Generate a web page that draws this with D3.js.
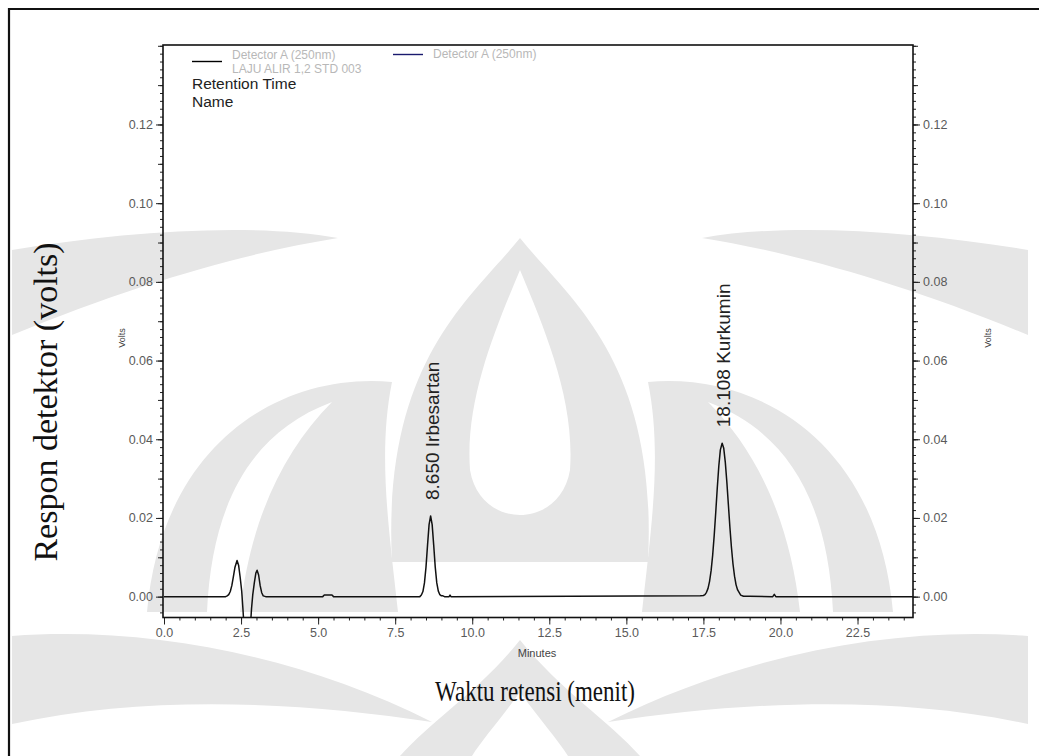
<!DOCTYPE html>
<html>
<head>
<meta charset="utf-8">
<script src="https://cdn.jsdelivr.net/npm/d3@7"></script>
<style>
  body { margin: 0; background: #fff; }
  svg { display: block; }
</style>
</head>
<body>
<svg id="chart" width="1039" height="756"></svg>
<script>
// Axis tick values
const xMajorTicks = [0, 2.5, 5, 7.5, 10, 12.5, 15, 17.5, 20, 22.5];
const yMajorTicks = [0, 0.02, 0.04, 0.06, 0.08, 0.10, 0.12];

// Detector trace: retention time (min) and response (volts)
const traceTime = [
  0, 2.00, 2.05, 2.10, 2.15, 2.20, 2.25, 2.30, 2.37, 2.42, 2.47, 2.52, 2.56, 2.60, 2.70,
  2.80, 2.84, 2.88, 2.93, 2.98, 3.02, 3.07, 3.12, 3.17, 3.22, 3.30,
  5.15, 5.20, 5.45, 5.50,
  8.30, 8.35, 8.40, 8.45, 8.50, 8.55, 8.60, 8.650, 8.70, 8.75, 8.80, 8.85, 8.90, 8.95, 9.00, 9.05, 9.10,
  9.25, 9.28, 9.31,
  17.40, 17.50, 17.55, 17.60, 17.65, 17.70, 17.75, 17.80, 17.85, 17.90, 17.95, 18.00, 18.05, 18.108,
  18.16, 18.21, 18.26, 18.31, 18.36, 18.41, 18.46, 18.51, 18.56, 18.61, 18.71, 18.80, 19.00,
  19.75, 19.80, 19.85, 24.3
];
const traceVolts = [
  0, 0, 0.0002, 0.0005, 0.0013, 0.0028, 0.0050, 0.0074, 0.0092, 0.0080, 0.0050, 0.0015, -0.0030, -0.0080, -0.0120,
  -0.0080, -0.0030, 0.0005, 0.0035, 0.0060, 0.0067, 0.0055, 0.0028, 0.0010, 0.0002, 0,
  0, 0.0004, 0.0004, 0,
  0, 0.0004, 0.0013, 0.0035, 0.0075, 0.0131, 0.0183, 0.0205, 0.0183, 0.0131, 0.0075, 0.0035, 0.0014, 0.0005, 0.0002, 0.0002, 0,
  0, 0.0004, 0,
  0.0002, 0.0003, 0.0005, 0.0011, 0.0021, 0.0039, 0.0066, 0.0105, 0.0155, 0.0214, 0.0276, 0.0332, 0.0373, 0.0390,
  0.0377, 0.0342, 0.0292, 0.0234, 0.0176, 0.0125, 0.0083, 0.0052, 0.0030, 0.0017, 0.0004, 0.0001, 0.0001,
  0, 0.0006, 0, 0
];

// Identified peaks
const peakNames = ["Irbesartan", "Kurkumin"];
const peakTimes = [8.650, 18.108];
const peakVolts = [0.0205, 0.0390];

// Legend entries
const legendNames = ["Detector A (250nm)", "Detector A (250nm)"];
const legendSubtitle = "LAJU ALIR 1,2  STD 003";
const legendColors = ["#000000", "#1a1a6e"];

const svg = d3.select("#chart");
const W = 1039, H = 756;

// Plot frame
const plotLeft = 163, plotRight = 913, plotTop = 45, plotBottom = 617.5;

const x = d3.scaleLinear().domain([0, 24.3]).range([plotLeft + 1, plotRight]);
const y = d3.scaleLinear().domain([-0.0053, 0.1402]).range([plotBottom, plotTop]);

// Faint page watermark (university emblem), mirrored about its centre line
const wmFill = "#e6e6e6";
const wm = svg.append("g").attr("fill", wmFill);
const wmCx = 520;
const wmLeftParts = [
  "M12,250 C120,232 250,222 338,238 C250,252 140,282 12,335 Z",
  "M392,382 C282,372 162,442 147,612 L398,612 C388,522 378,452 392,382 Z",
  "M12,636 C150,626 300,656 432,722 C300,702 150,694 12,724 Z"
];
wmLeftParts.forEach(d => {
  wm.append("path").attr("d", d);
  wm.append("path").attr("d", d).attr("transform", `translate(${2 * wmCx},0) scale(-1,1)`);
});
const wmHoles = [
  "M332,402 C252,432 212,502 207,612 L240,612 C250,522 282,452 332,402 Z"
];
wmHoles.forEach(d => {
  svg.append("path").attr("d", d).attr("fill", "#fff");
  svg.append("path").attr("d", d).attr("fill", "#fff").attr("transform", `translate(${2 * wmCx},0) scale(-1,1)`);
});
svg.append("path").attr("fill", wmFill).attr("fill-rule", "evenodd")
  .attr("d", "M520,238 C470,300 382,362 392,562 L648,562 C658,362 570,300 520,238 Z " +
             "M520,270 C495,330 465,400 470,470 C480,530 560,530 570,470 C575,400 545,330 520,270 Z");
svg.append("path").attr("fill", wmFill).attr("fill-rule", "evenodd")
  .attr("d", "M520,640 C480,690 430,722 400,756 L640,756 C610,722 560,690 520,640 Z " +
             "M520,692 C500,720 482,740 472,756 L568,756 C558,740 540,720 520,692 Z");

// Outer page border (runs off the right and bottom edges)
svg.append("path")
  .attr("d", `M9,${H + 5} V9 H${W + 5}`)
  .attr("fill", "none")
  .attr("stroke", "#111")
  .attr("stroke-width", 2.2);

const tickColor = "#5a5a5a";
const fontSans = "Arial, 'Liberation Sans', sans-serif";

// Minor / medium / major tick sets
const yMinor = d3.range(-0.004, 0.1401, 0.002).map(v => +v.toFixed(3));
const yMedium = d3.range(0, 0.1401, 0.01).map(v => +v.toFixed(3));
const xMinor = d3.range(0, 24.31, 0.5).map(v => +v.toFixed(2));

function styleAxis(g) {
  g.select(".domain").remove();
  g.selectAll(".tick line").attr("stroke", "#222").attr("stroke-width", 1);
  g.selectAll(".tick text")
    .attr("fill", tickColor)
    .attr("font-family", fontSans)
    .attr("font-size", 12.5);
}

// Left axis
svg.append("g").attr("transform", `translate(${plotLeft},0)`)
  .call(d3.axisLeft(y).tickValues(yMinor).tickSize(3).tickFormat(""))
  .call(styleAxis);
svg.append("g").attr("transform", `translate(${plotLeft},0)`)
  .call(d3.axisLeft(y).tickValues(yMedium).tickSize(5).tickFormat(""))
  .call(styleAxis);
svg.append("g").attr("transform", `translate(${plotLeft},0)`)
  .call(d3.axisLeft(y).tickValues(yMajorTicks).tickSize(7).tickPadding(3).tickFormat(d3.format(".2f")))
  .call(styleAxis);

// Right axis
svg.append("g").attr("transform", `translate(${plotRight},0)`)
  .call(d3.axisRight(y).tickValues(yMinor).tickSize(3).tickFormat(""))
  .call(styleAxis);
svg.append("g").attr("transform", `translate(${plotRight},0)`)
  .call(d3.axisRight(y).tickValues(yMedium).tickSize(5).tickFormat(""))
  .call(styleAxis);
svg.append("g").attr("transform", `translate(${plotRight},0)`)
  .call(d3.axisRight(y).tickValues(yMajorTicks).tickSize(7).tickPadding(3).tickFormat(d3.format(".2f")))
  .call(styleAxis);

// Bottom axis
svg.append("g").attr("transform", `translate(0,${plotBottom})`)
  .call(d3.axisBottom(x).tickValues(xMinor).tickSize(3).tickFormat(""))
  .call(styleAxis);
svg.append("g").attr("transform", `translate(0,${plotBottom})`)
  .call(d3.axisBottom(x).tickValues(xMajorTicks).tickSize(7).tickPadding(4).tickFormat(d3.format(".1f")))
  .call(styleAxis);

// Frame lines
svg.append("rect")
  .attr("x", plotLeft).attr("y", plotTop)
  .attr("width", plotRight - plotLeft).attr("height", plotBottom - plotTop)
  .attr("fill", "none")
  .attr("stroke", "#111")
  .attr("stroke-width", 1.6);

// Clip for the trace
svg.append("defs").append("clipPath").attr("id", "plotClip")
  .append("rect").attr("x", plotLeft).attr("y", plotTop)
  .attr("width", plotRight - plotLeft).attr("height", plotBottom - plotTop);

const trace = traceTime.map((t, i) => [t, traceVolts[i]]);
const line = d3.line().x(d => x(d[0])).y(d => y(d[1]));

svg.append("path")
  .datum(trace)
  .attr("clip-path", "url(#plotClip)")
  .attr("fill", "none")
  .attr("stroke", "#111")
  .attr("stroke-width", 1.5)
  .attr("stroke-linejoin", "round")
  .attr("d", line);

// Peak annotations (retention time and compound name, written upward)
peakNames.forEach((name, i) => {
  const px = x(peakTimes[i]);
  const py = y(peakVolts[i]) - 16;
  svg.append("text")
    .attr("transform", `translate(${px + 8},${py}) rotate(-90)`)
    .attr("font-family", fontSans)
    .attr("font-size", 19)
    .attr("fill", "#222")
    .text(`${peakTimes[i].toFixed(3)} ${name}`);
});

// Legend
const lg = svg.append("g").attr("font-family", fontSans);
lg.append("line").attr("x1", 192).attr("x2", 222).attr("y1", 61.5).attr("y2", 61.5)
  .attr("stroke", legendColors[0]).attr("stroke-width", 1.4);
lg.append("text").attr("x", 232).attr("y", 59)
  .attr("font-size", 12).attr("fill", "#b8b8b8")
  .text(legendNames[0]);
lg.append("text").attr("x", 232).attr("y", 73)
  .attr("font-size", 12).attr("fill", "#b8b8b8")
  .text(legendSubtitle);
lg.append("line").attr("x1", 393).attr("x2", 423).attr("y1", 54.5).attr("y2", 54.5)
  .attr("stroke", legendColors[1]).attr("stroke-width", 1.4);
lg.append("text").attr("x", 433).attr("y", 58)
  .attr("font-size", 12).attr("fill", "#b8b8b8")
  .text(legendNames[1]);
lg.append("text").attr("x", 192).attr("y", 89)
  .attr("font-size", 15.5).attr("fill", "#222")
  .text("Retention Time");
lg.append("text").attr("x", 192).attr("y", 106.5)
  .attr("font-size", 15.5).attr("fill", "#222")
  .text("Name");

// Small axis titles
svg.append("text")
  .attr("transform", `translate(125,338) rotate(-90)`)
  .attr("text-anchor", "middle")
  .attr("font-family", fontSans).attr("font-size", 9).attr("fill", "#444")
  .text("Volts");
svg.append("text")
  .attr("transform", `translate(991,338) rotate(-90)`)
  .attr("text-anchor", "middle")
  .attr("font-family", fontSans).attr("font-size", 9).attr("fill", "#444")
  .text("Volts");
svg.append("text")
  .attr("x", 537).attr("y", 657)
  .attr("text-anchor", "middle")
  .attr("font-family", fontSans).attr("font-size", 11).attr("fill", "#444")
  .text("Minutes");

// Main axis titles
const fontSerif = "'Liberation Serif', 'Times New Roman', serif";
svg.append("text")
  .attr("transform", `translate(57,402) rotate(-90)`)
  .attr("text-anchor", "middle")
  .attr("font-family", fontSerif).attr("font-size", 34).attr("fill", "#111")
  .text("Respon detektor (volts)");
svg.append("text")
  .attr("transform", `translate(535,701) scale(1,1.3)`)
  .attr("text-anchor", "middle")
  .attr("font-family", fontSerif).attr("font-size", 23).attr("fill", "#111")
  .text("Waktu retensi (menit)");
</script>
</body>
</html>
